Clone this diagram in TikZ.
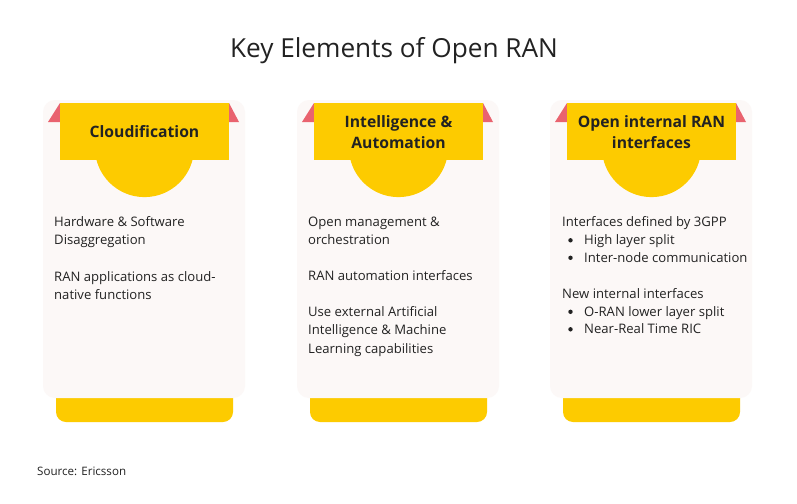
\documentclass[tikz,border=0pt]{standalone}
\usepackage{fontspec}
\setmainfont{Open Sans}
\definecolor{ryellow}{HTML}{FDCB00}
\definecolor{rpink}{HTML}{E9636F}
\definecolor{cardbg}{HTML}{FCF8F7}
\definecolor{txt}{HTML}{222222}
\tikzset{
  card/.style={fill=cardbg, draw=none, rounded corners=12pt},
  bar/.style={fill=ryellow, draw=none},
  flap/.style={fill=rpink, draw=none},
  body/.style={anchor=base west, inner sep=0pt, font=\fontsize{13.1}{15}\selectfont, text=txt},
  head/.style={align=center, inner sep=0pt, font=\fontsize{15.7}{21}\selectfont\bfseries, text=txt},
}
\begin{document}
\begin{tikzpicture}[x=1pt,y=-1pt]
\useasboundingbox (0,0) rectangle (797,503);
\fill[white] (0,0) rectangle (797,503);
\node[anchor=base, inner sep=0pt, font=\fontsize{26.2}{30}\selectfont, text=txt] (title) at (394,57) {Key Elements of Open RAN};

\foreach \cx/\yl/\yr [count=\i] in {43/60/229, 297/314/483, 550/567/736} {
  \pgfmathsetmacro{\mid}{(\yl+\yr)/2}
  % bottom yellow bar
  \fill[bar, rounded corners=10pt] (\cx+13,380) rectangle (\cx+190,422);
  % card
  \fill[card] (\cx,100) rectangle (\cx+202,398);
  % flaps
  \fill[flap] (\yl-12,122) -- (\yl,103) -- (\yl,122) -- cycle;
  \fill[flap] (\yr+10,122) -- (\yr,103) -- (\yr,122) -- cycle;
  % yellow head
  \fill[bar] (\yl,103) rectangle (\yr,160);
  \begin{scope}
    \clip (\yl,160) rectangle (\yr,210);
    \fill[bar] (\mid,147.5) circle[radius=49.6];
  \end{scope}
}

\node[head] (h1) at (144.5,132) {Cloudification};
\node[head] (h2) at (398.5,132) {Intelligence \&\\Automation};
\node[head] (h3) at (651.5,132) {Open internal RAN\\interfaces};

\node[body] (a1) at (54,226) {Hardware \& Software};
\node[body] (a2) at (54,244.5) {Disaggregation};
\node[body] (a3) at (54,281) {RAN applications as cloud-};
\node[body] (a4) at (54,299.5) {native functions};

\node[body] (b1) at (308,226) {Open management \&};
\node[body] (b2) at (308,244.5) {orchestration};
\node[body] (b3) at (308,280) {RAN automation interfaces};
\node[body] (b4) at (308,316) {Use external Artificial};
\node[body] (b5) at (308,334.5) {Intelligence \& Machine};
\node[body] (b6) at (308,353) {Learning capabilities};

\node[body] (c1) at (562,226) {Interfaces defined by 3GPP};
\node[body] (c2) at (584,244.5) {High layer split};
\node[body] (c3) at (584,262) {Inter-node communication};
\node[body] (c4) at (562,298) {New internal interfaces};
\node[body] (c5) at (584,316) {O-RAN lower layer split};
\node[body] (c6) at (584,333.5) {Near-Real Time RIC};
\foreach \n in {c2,c3,c5,c6} \fill[txt] ([xshift=-13.5pt,yshift=4.2pt]\n.base west) circle[radius=2.2pt];

\node[anchor=base west, inner sep=0pt, font=\fontsize{11.6}{13}\selectfont, text=txt] (src) at (37,475) {Source: Ericsson};
\end{tikzpicture}
\end{document}
